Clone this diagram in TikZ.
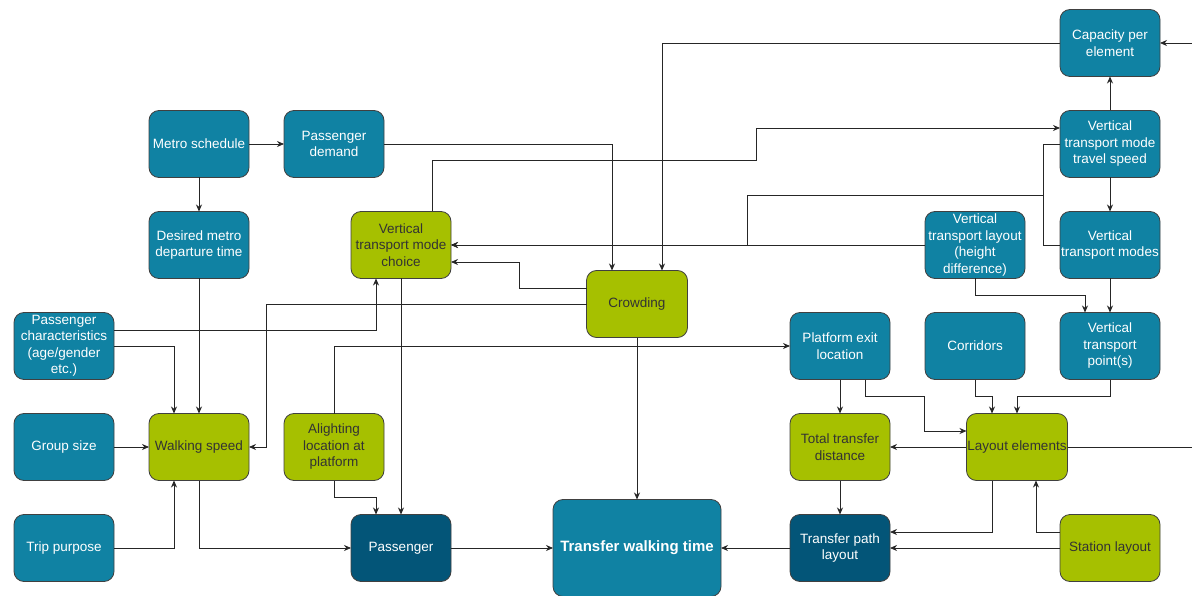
\documentclass[tikz,border=0pt]{standalone}
\usepackage{fontspec}
\setmainfont{Liberation Sans}
\usetikzlibrary{positioning,arrows.meta}
\definecolor{boxblue}{RGB}{16,130,163}
\definecolor{boxdark}{RGB}{3,85,120}
\definecolor{boxgreen}{RGB}{166,192,0}
\begin{document}
\begin{tikzpicture}[x=1pt,y=1pt,node distance=101pt and 135pt,on grid,
   box/.style={rectangle,rounded corners=10pt,minimum width=100pt,minimum height=67pt,
     inner sep=1pt,outer sep=0pt,align=center,draw=black!75,line width=0.8pt,
     font=\fontsize{13.5}{16.5}\selectfont},
   blue box/.style={box,fill=boxblue,text=white},
   green box/.style={box,fill=boxgreen,text=black!80},
   dark box/.style={box,fill=boxdark,text=white},
   arr/.style={-{Stealth[length=7pt,width=6pt]},line width=0.8pt,black!85}]
   \useasboundingbox (0,0) rectangle (1192,-596);
   % left part
   \node[blue box] (sched) at (199,-144) {Metro schedule};
   \node[blue box] (demand) [right=of sched] {Passenger\\demand};
   \node[blue box] (depart) [below=of sched] {Desired metro\\departure time};
   \node[green box] (choice) [below right=101pt and 67pt of demand] {Vertical\\transport mode\\choice};
   \node[blue box] (pchar) at (64,-346) {Passenger\\characteristics\\(age/gender\\etc.)};
   \node[blue box] (group) [below=of pchar] {Group size};
   \node[blue box] (trip) [below=of group] {Trip purpose};
   \node[green box] (walk) [right=of group] {Walking speed};
   \node[green box] (alight) [right=of walk] {Alighting\\location at\\platform};
   \node[dark box] (pass) [below right=101pt and 67pt of alight] {Passenger};
   % middle
   \node[green box,minimum width=101pt] (crowd) at (637,-304) {Crowding};
   \node[blue box,minimum width=168pt,minimum height=97pt,
     font=\fontsize{15}{18}\selectfont\bfseries] (twt) [right=236pt of pass] {Transfer walking time};
   % right part
   \node[blue box] (pexit) at (840,-346) {Platform exit\\location};
   \node[blue box] (corr) [right=of pexit] {Corridors};
   \node[blue box] (vtp) [right=of corr] {Vertical\\transport\\point(s)};
   \node[blue box] (vtlayout) [above=of corr] {Vertical\\transport layout\\(height\\difference)};
   \node[blue box] (vtmodes) [above=of vtp] {Vertical\\transport modes};
   \node[blue box] (speed) [above=of vtmodes] {Vertical\\transport mode\\travel speed};
   \node[blue box] (cap) [above=of speed] {Capacity per\\element};
   \node[green box] (tdist) [below=of pexit] {Total transfer\\distance};
   \node[dark box] (tpath) [below=of tdist] {Transfer path\\layout};
   \node[green box] (layout) [right=177pt of tdist] {Layout elements};
   \node[green box] (station) [right=270pt of tpath] {Station layout};
   \coordinate (vj) at (1043,-195);

   \path[arr]
    (sched) edge (demand)
            edge (depart)
    (depart) edge (walk)
    (group) edge (walk)
    (choice) edge (pass)
    (crowd) edge (twt)
    (pass) edge (twt)
    (tpath) edge (twt)
    (speed) edge (cap)
            edge (vtmodes)
    (vtmodes) edge (vtp)
    (vtlayout) edge (choice)
    (pexit) edge (tdist)
    (tdist) edge (tpath)
    (layout) edge (tdist)
    (station) edge (tpath);

   \draw[arr] (demand.east) -| ([xshift=-25pt]crowd.north);
   \draw[arr] (cap.west) -| ([xshift=25pt]crowd.north);
   \draw[arr] (layout.east) -- ++(133,0) |- (cap.east);
   \draw[arr] ([xshift=31pt]choice.north) -- ++(0,51) -- ++(324,0) |- ([yshift=16pt]speed.west);
   \draw[arr] (vtmodes.west) -| (vj) -- ++(-296,0) |- (choice.east);
   \draw[arr,-] (speed.west) -| (vj);
   \draw[arr] (vtlayout.south) -- ++(0,-17) -| ([xshift=-25pt]vtp.north);
   \draw[arr] ([yshift=16pt]crowd.west) -- ++(-67,0) |- ([yshift=-17pt]choice.east);
   \draw[arr] (crowd.west) -- ++(-320,0) |- (walk.east);
   \draw[arr] ([yshift=16pt]pchar.east) -| ([xshift=-25pt]choice.south);
   \draw[arr] (pchar.east) -| ([xshift=-25pt]walk.north);
   \draw[arr] (trip.east) -| ([xshift=-25pt]walk.south);
   \draw[arr] (walk.south) |- (pass.west);
   \draw[arr] (alight.north) |- (pexit.west);
   \draw[arr] (alight.south) -- ++(0,-17) -| ([xshift=-25pt]pass.north);
   \draw[arr] ([xshift=25pt]pexit.south) -- ++(0,-17) -- ++(59,0) |- ([yshift=16pt]layout.west);
   \draw[arr] (corr.south) -- ++(0,-17) -| ([xshift=-25pt]layout.north);
   \draw[arr] (vtp.south) -- ++(0,-17) -| (layout.north);
   \draw[arr] ([xshift=-25pt]layout.south) |- ([yshift=16pt]tpath.east);
   \draw[arr] ([yshift=16pt]station.west) -| ([xshift=19pt]layout.south);
\end{tikzpicture}
\end{document}
